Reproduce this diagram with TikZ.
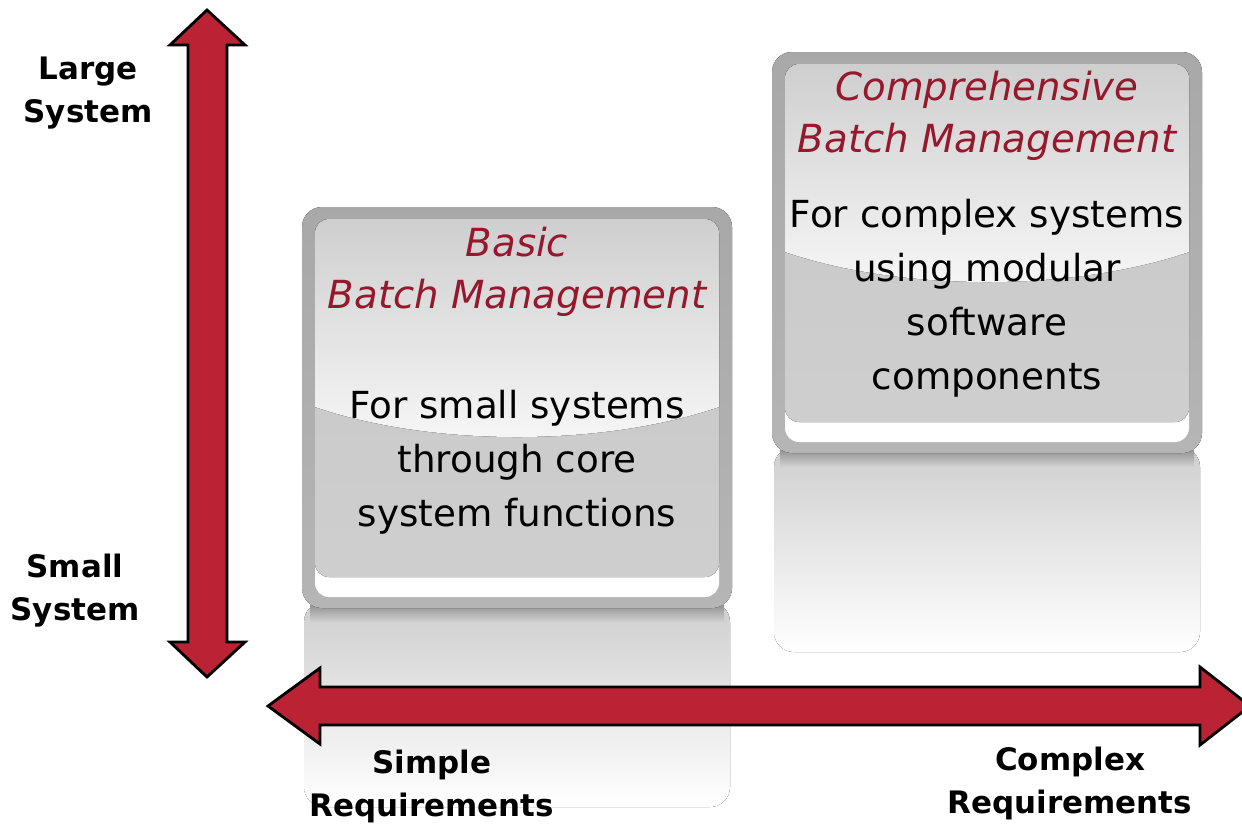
\documentclass[tikz,border=0pt]{standalone}
\usepackage{fontspec}
\setmainfont{DejaVu Sans}
\usepackage{tikz}

\definecolor{axisred}{RGB}{187,34,51}
\definecolor{titlered}{RGB}{150,24,44}

\begin{document}
\begin{tikzpicture}[x=0.01cm, y=-0.01cm,
    axis/.style={draw=black, line width=0.8pt, fill=axisred, line join=miter},
    axislabel/.style={font=\fontsize{8.8}{12.2}\selectfont\bfseries, align=center},
    boxtitle/.style={font=\fontsize{11}{14.8}\selectfont\itshape, text=titlered, align=center},
    boxtext/.style={font=\fontsize{10.6}{15.4}\selectfont, align=center}]
  \useasboundingbox (0, 0) rectangle (1242, 826);

  % Draw the two glossy boxes with their reflections.
  \foreach \bx/\by in {302/207, 772/52} {
    \begin{scope}[shift={(\bx, \by)}]
      \fill[top color=black!19, bottom color=white, rounded corners=0.2cm] (2, 395) rectangle (428, 600);
      \fill[top color=black!42, bottom color=black!19] (8, 398) rectangle (422, 414);
      \fill[top color=black!34, bottom color=black!29, rounded corners=0.2cm] (0, 0) rectangle (430, 401);
      \fill[white, rounded corners=0.14cm] (13, 12) rectangle (417, 390);
      \fill[top color=black!22, bottom color=black!19, rounded corners=0.14cm] (13, 12) rectangle (417, 370);
      \begin{scope}
        \clip[rounded corners=0.14cm] (13, 12) rectangle (417, 370);
        \fill[top color=black!19, bottom color=black!3] (13, 12) -- (417, 12) -- (417, 200)
          .. controls (300, 240) and (130, 240) .. (13, 200) -- cycle;
      \end{scope}
    \end{scope}
  }

  % Box texts.
  \node[boxtitle] (basic-title) at (517, 272) {Basic\\Batch Management};
  \node[boxtext] (basic-text) at (517, 462) {For small systems\\through core\\system functions};
  \node[boxtitle] (comp-title) at (987, 116) {Comprehensive\\Batch Management};
  \node[boxtext] (comp-text) at (987, 298) {For complex systems\\using modular\\software\\components};

  % Draw system size axis.
  \draw[axis] (207, 10) -- (245, 45) -- (227, 45) -- (227, 642) -- (245, 642) -- (207, 677)
    -- (170, 642) -- (188, 642) -- (188, 45) -- (170, 45) -- cycle;
  \node[axislabel] (large) at (88, 93) {Large\\System};
  \node[axislabel] (small) at (75, 591) {Small\\System};

  % Draw requirements axis.
  \draw[axis] (268, 706) -- (320, 668) -- (320, 687) -- (1200, 687) -- (1200, 667) -- (1250, 706)
    -- (1200, 745) -- (1200, 725) -- (320, 725) -- (320, 744) -- cycle;
  \node[axislabel] (simple) at (432, 786) {Simple\\Requirements};
  \node[axislabel] (complex) at (1070, 783) {Complex\\Requirements};
\end{tikzpicture}
\end{document}
